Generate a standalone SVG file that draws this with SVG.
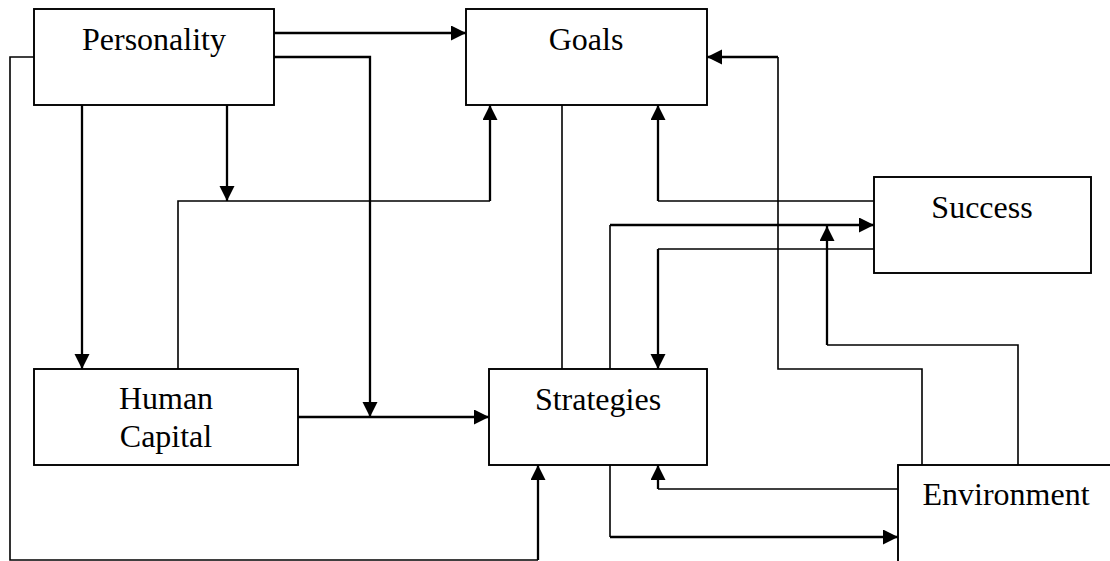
<svg xmlns="http://www.w3.org/2000/svg" width="1110" height="561" viewBox="0 0 1110 561">
  <style>
    .box { fill: #ffffff; stroke: #000000; stroke-width: 1.9; }
    .label { font-family: "Liberation Serif", "Times New Roman", serif; font-size: 32px; fill: #000000; text-anchor: middle; }
    .line { fill: none; stroke: #000000; stroke-width: 1.6; }
    .arrow { fill: none; stroke: #000000; stroke-width: 2.3; marker-end: url(#head); }
  </style>
  <defs>
    <marker id="head" markerUnits="userSpaceOnUse" markerWidth="16" markerHeight="16" refX="15" refY="7.5" orient="auto">
      <path d="M0,0 L15,7.5 L0,15 Z" fill="#000000"/>
    </marker>
  </defs>
  <rect width="1110" height="561" fill="#ffffff"/>

  <!-- connectors -->
  <g id="connectors">
    <!-- Personality -> Goals -->
    <path class="arrow" d="M274,33 H466"/>
    <!-- Personality -> Human Capital/Strategies link -->
    <path class="arrow" d="M274,57 H370 V417"/>
    <!-- Personality -> Human Capital -->
    <path class="arrow" d="M82,105 V369"/>
    <!-- Personality -> Human Capital/Goals link -->
    <path class="arrow" d="M227,105 V201"/>
    <!-- Personality -> Strategies (outer loop) -->
    <path class="line" d="M34,57 H10 V560 H538"/>
    <path class="arrow" d="M538,560 V465"/>
    <!-- Human Capital -> Goals -->
    <path class="line" d="M178,369 V201 H490"/>
    <path class="arrow" d="M490,201 V105"/>
    <!-- Human Capital -> Strategies -->
    <path class="arrow" d="M298,417 H489"/>
    <!-- Goals - Strategies -->
    <path class="line" d="M562,105 V369"/>
    <!-- Success -> Goals -->
    <path class="line" d="M874,201 H658"/>
    <path class="arrow" d="M658,201 V105"/>
    <!-- Environment -> Goals -->
    <path class="line" d="M922,465 V369 H778 V57"/>
    <path class="arrow" d="M778,57 H707"/>
    <!-- Strategies -> Success -->
    <path class="line" d="M610,369 V225"/>
    <path class="arrow" d="M610,225 H874"/>
    <!-- Success -> Strategies -->
    <path class="line" d="M874,249 H658"/>
    <path class="arrow" d="M658,249 V369"/>
    <!-- Environment -> Strategies/Success link -->
    <path class="line" d="M1018,465 V345 H827"/>
    <path class="arrow" d="M827,345 V226"/>
    <!-- Environment -> Strategies -->
    <path class="line" d="M898,489 H658"/>
    <path class="arrow" d="M658,489 V465"/>
    <!-- Strategies -> Environment -->
    <path class="line" d="M610,465 V537"/>
    <path class="arrow" d="M610,537 H898"/>
  </g>

  <g id="personality">
    <rect class="box" x="34" y="9" width="240" height="96"/>
    <text class="label" x="154" y="50">Personality</text>
  </g>
  <g id="goals">
    <rect class="box" x="466" y="9" width="241" height="96"/>
    <text class="label" x="586" y="50">Goals</text>
  </g>
  <g id="success">
    <rect class="box" x="874" y="177" width="217" height="96"/>
    <text class="label" x="982" y="218">Success</text>
  </g>
  <g id="human-capital">
    <rect class="box" x="34" y="369" width="264" height="96"/>
    <text class="label" x="166" y="409">Human</text>
    <text class="label" x="166" y="447">Capital</text>
  </g>
  <g id="strategies">
    <rect class="box" x="489" y="369" width="218" height="96"/>
    <text class="label" x="598" y="410">Strategies</text>
  </g>
  <g id="environment">
    <rect class="box" x="898" y="465" width="217" height="100"/>
    <text class="label" x="1006" y="505">Environment</text>
  </g>
</svg>
